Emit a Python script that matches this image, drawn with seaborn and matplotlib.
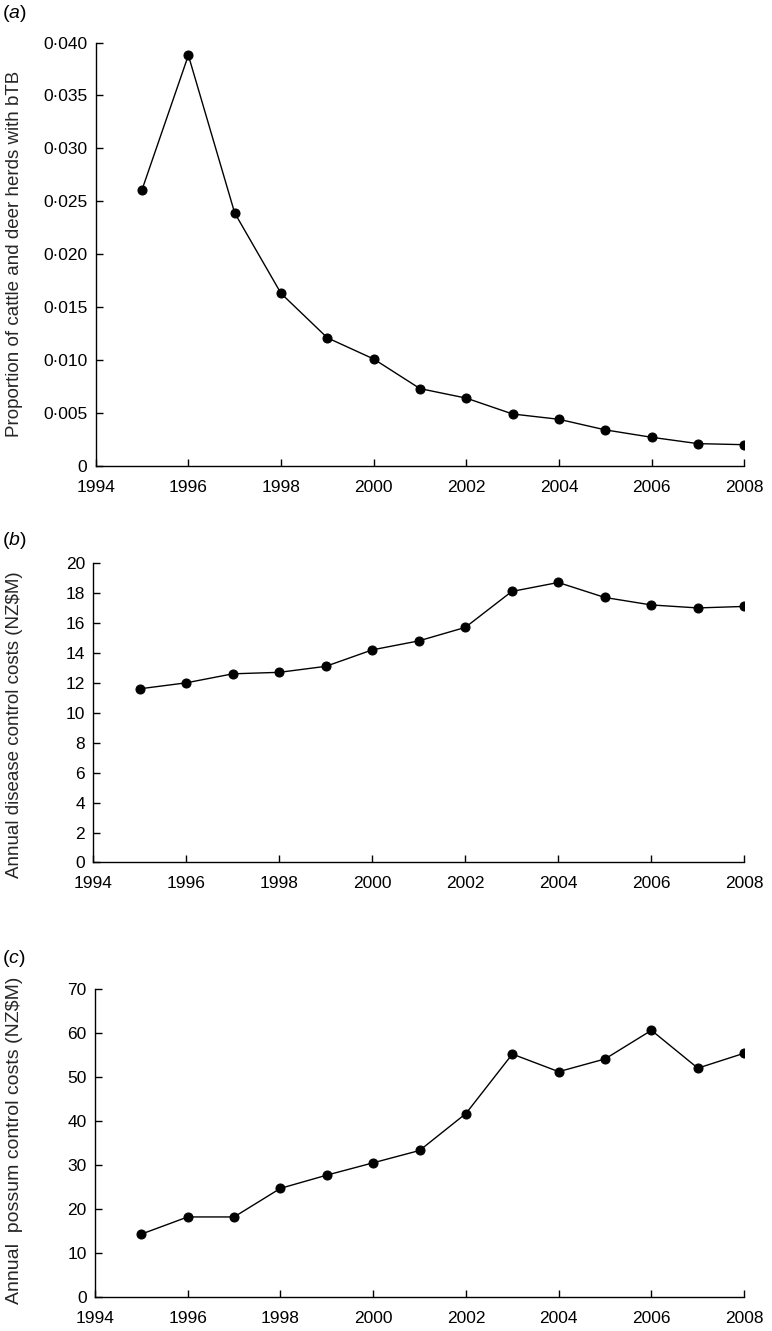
import matplotlib
matplotlib.use("Agg")
import matplotlib.pyplot as plt
from matplotlib.ticker import FuncFormatter, MultipleLocator
import pandas as pd
import seaborn as sns

# Data
years = [1995, 1996, 1997, 1998, 1999, 2000, 2001, 2002, 2003, 2004, 2005, 2006, 2007, 2008]
herd_prop = [0.0261, 0.0388, 0.0239, 0.0163, 0.0121, 0.0101, 0.0073, 0.0064,
             0.0049, 0.0044, 0.0034, 0.0027, 0.0021, 0.0020]
disease_cost = [11.6, 12.0, 12.6, 12.7, 13.1, 14.2, 14.8, 15.7, 18.1, 18.7, 17.7, 17.2, 17.0, 17.1]
possum_cost = [14.3, 18.2, 18.2, 24.7, 27.7, 30.5, 33.3, 41.7, 55.2, 51.2, 54.1, 60.6, 52.0, 55.4]

panel_labels = ["a", "b", "c"]
y_labels = ["Proportion of cattle and deer herds with bTB",
            "Annual disease control costs (NZ\\$M)",
            "Annual  possum control costs (NZ\\$M)"]
y_limits = [(0, 0.040), (0, 20), (0, 70)]
y_steps = [0.005, 2, 10]

sns.set_theme(style="ticks")
plt.rcParams.update({
    'font.family': ['Liberation Sans', 'DejaVu Sans'],
    'mathtext.fontset': 'custom',
    'mathtext.rm': 'Liberation Sans',
    'mathtext.it': 'Liberation Sans:italic',
    'axes.edgecolor': 'black',
    'axes.linewidth': 1.0,
    'xtick.color': 'black',
    'ytick.color': 'black',
    'text.color': 'black',
})

df = pd.DataFrame({'year': years, 'herd': herd_prop,
                   'disease': disease_cost, 'possum': possum_cost})
cols = ['herd', 'disease', 'possum']

W, H = 772, 1331
fig = plt.figure(figsize=(W / 100, H / 100), dpi=100)
# axes boxes in figure fractions [left, bottom, width, height]
boxes = [[0.124, 0.650, 0.840, 0.318],
         [0.121, 0.352, 0.843, 0.225],
         [0.123, 0.0255, 0.841, 0.2315]]
label_y = [0.990, 0.594, 0.280]
ylabel_pos = [0.5, 0.46, 0.51]
ylabel_size = [13.5, 13.5, 14]


def dot_fmt(v, pos):
    if abs(v) < 1e-12:
        return "0"
    return f"{v:.3f}".replace(".", "\u00b7")


for i, col in enumerate(cols):
    ax = fig.add_axes(boxes[i])
    sns.lineplot(data=df, x='year', y=col, ax=ax, color='black', linewidth=1.0,
                 marker='o', markersize=6.5, markeredgecolor='black')
    ax.set_xlim(1994, 2008)
    ax.set_ylim(*y_limits[i])
    ax.xaxis.set_major_locator(MultipleLocator(2))
    ax.yaxis.set_major_locator(MultipleLocator(y_steps[i]))
    if i == 0:
        ax.yaxis.set_major_formatter(FuncFormatter(dot_fmt))
    ax.tick_params(direction='in', length=5, width=1, labelsize=12.5, pad=6)
    ax.tick_params(axis='x', pad=10)
    sns.despine(ax=ax)
    ax.set_xlabel("")
    ax.set_ylabel(y_labels[i], fontsize=ylabel_size[i])
    # right edge of the rotated label at ~23 px from the figure's left edge
    left_px = boxes[i][0] * W
    ax.yaxis.set_label_coords((23 - left_px) / (boxes[i][2] * W), ylabel_pos[i])
    fig.text(0.003, label_y[i], f"($\\mathit{{{panel_labels[i]}}}$)", fontsize=14,
             ha='left', va='center')

plt.savefig("out.png", dpi=100)
plt.close()
